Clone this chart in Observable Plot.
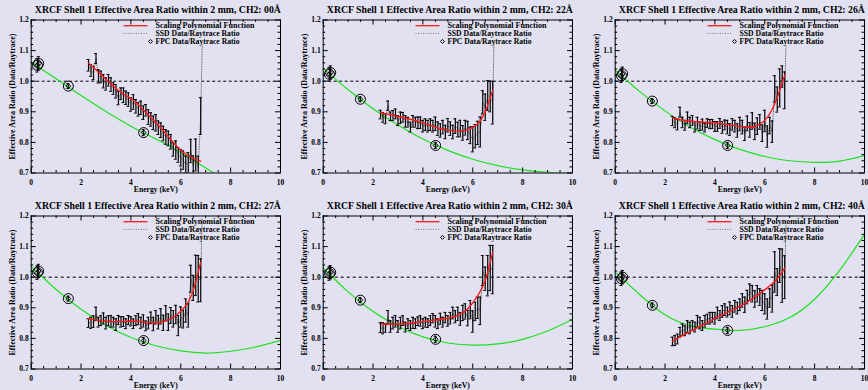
<!DOCTYPE html>
<html><head><meta charset="utf-8">
<script src="https://cdn.jsdelivr.net/npm/d3@7"></script>
<script src="https://cdn.jsdelivr.net/npm/@observablehq/plot@0.6"></script>
<style>
html,body{margin:0;padding:0;background:#e1e1f2;width:868px;height:390px;overflow:hidden;}
#wrap{position:relative;width:868px;height:390px;overflow:hidden;}
.panel{position:absolute;width:292px;height:195px;}
.panel svg{display:block;overflow:visible;}
</style></head><body><div id="wrap"></div>
<script>
// ---------- data ----------
const panelLabels = ["00Å", "22Å", "26Å", "27Å", "30Å", "40Å"];
const energy = [2.3,2.4,2.5,2.6,2.7,2.8,2.9,3.0,3.1,3.2,3.3,3.4,3.5,3.6,3.7,3.8,3.9,4.0,4.1,4.2,4.3,4.4,4.5,4.6,4.7,4.8,4.9,5.0,5.1,5.2,5.3,5.4,5.5,5.6,5.7,5.8,5.9,6.0,6.1,6.2,6.3,6.4,6.5,6.6,6.7,6.8];

const ssd00 = [1.052,1.035,1.027,1.074,1.016,1.014,1.000,0.991,1.003,0.989,0.976,0.967,0.945,0.959,0.954,0.946,0.940,0.924,0.932,0.918,0.908,0.913,0.897,0.905,0.883,0.875,0.864,0.864,0.848,0.840,0.829,0.818,0.813,0.802,0.777,0.775,0.759,0.750,0.742,0.728,0.734,0.772,0.723,0.759,0.717,0.886];
const err00 = [0.019,0.019,0.022,0.016,0.022,0.019,0.022,0.020,0.019,0.022,0.019,0.022,0.022,0.019,0.024,0.022,0.022,0.022,0.024,0.022,0.022,0.022,0.022,0.019,0.024,0.022,0.022,0.027,0.022,0.024,0.024,0.024,0.024,0.024,0.022,0.030,0.024,0.027,0.030,0.027,0.033,0.038,0.033,0.052,0.038,0.060];
const ssd22 = [0.891,0.882,0.877,0.920,0.885,0.888,0.893,0.871,0.880,0.882,0.869,0.866,0.850,0.869,0.866,0.864,0.864,0.853,0.858,0.853,0.858,0.853,0.861,0.845,0.839,0.850,0.834,0.856,0.845,0.834,0.853,0.842,0.845,0.831,0.848,0.839,0.823,0.810,0.820,0.831,0.834,0.931,0.915,0.953,0.950,0.930];
const err22 = [0.014,0.016,0.016,0.015,0.014,0.016,0.016,0.016,0.019,0.016,0.019,0.016,0.016,0.019,0.016,0.019,0.019,0.019,0.019,0.019,0.019,0.019,0.022,0.022,0.022,0.022,0.022,0.022,0.022,0.022,0.024,0.024,0.027,0.024,0.024,0.030,0.027,0.041,0.038,0.038,0.049,0.038,0.043,0.049,0.050,0.070];
const ssd26 = [0.870,0.864,0.858,0.899,0.865,0.856,0.880,0.865,0.872,0.851,0.863,0.853,0.858,0.848,0.863,0.860,0.860,0.852,0.852,0.862,0.849,0.857,0.850,0.842,0.859,0.853,0.839,0.860,0.850,0.828,0.862,0.841,0.870,0.836,0.853,0.867,0.830,0.870,0.819,0.855,0.835,0.975,0.940,0.978,1.015,0.970];
const err26 = [0.015,0.016,0.017,0.016,0.017,0.016,0.019,0.017,0.016,0.017,0.019,0.014,0.018,0.014,0.014,0.015,0.015,0.016,0.016,0.016,0.019,0.016,0.022,0.019,0.019,0.019,0.022,0.022,0.022,0.022,0.024,0.024,0.027,0.027,0.027,0.024,0.027,0.035,0.035,0.027,0.035,0.043,0.041,0.062,0.035,0.060];
const ssd27 = [0.850,0.851,0.855,0.880,0.853,0.858,0.865,0.850,0.858,0.856,0.853,0.845,0.860,0.854,0.855,0.848,0.860,0.856,0.848,0.858,0.863,0.851,0.857,0.841,0.850,0.867,0.847,0.869,0.853,0.872,0.851,0.882,0.853,0.875,0.864,0.878,0.842,0.870,0.863,0.891,0.875,0.995,0.965,1.006,0.995,0.990];
const err27 = [0.014,0.018,0.019,0.022,0.016,0.016,0.018,0.019,0.016,0.019,0.016,0.019,0.015,0.017,0.016,0.016,0.015,0.015,0.016,0.016,0.018,0.018,0.020,0.016,0.019,0.019,0.022,0.022,0.022,0.025,0.025,0.025,0.027,0.026,0.027,0.030,0.033,0.033,0.029,0.038,0.038,0.044,0.041,0.066,0.076,0.070];
const ssd30 = [0.835,0.833,0.834,0.869,0.839,0.850,0.856,0.839,0.850,0.858,0.837,0.848,0.842,0.851,0.848,0.856,0.857,0.848,0.853,0.850,0.858,0.866,0.856,0.848,0.864,0.853,0.868,0.857,0.866,0.883,0.871,0.880,0.864,0.883,0.888,0.866,0.894,0.855,0.888,0.900,0.890,1.022,0.995,1.005,1.030,1.025];
const err30 = [0.016,0.018,0.014,0.022,0.019,0.019,0.019,0.019,0.019,0.016,0.016,0.016,0.016,0.018,0.016,0.014,0.017,0.016,0.016,0.014,0.016,0.015,0.019,0.016,0.018,0.016,0.017,0.017,0.019,0.019,0.020,0.022,0.021,0.025,0.025,0.025,0.030,0.035,0.030,0.035,0.045,0.049,0.038,0.066,0.074,0.079];
const ssd40 = [0.790,0.793,0.798,0.820,0.828,0.825,0.839,0.834,0.842,0.837,0.856,0.850,0.842,0.856,0.863,0.866,0.869,0.866,0.883,0.875,0.888,0.894,0.886,0.898,0.888,0.905,0.899,0.910,0.924,0.910,0.935,0.951,0.946,0.929,0.946,0.935,0.924,0.913,0.896,0.932,0.930,1.017,0.984,1.038,1.005,1.000];
const err40 = [0.014,0.016,0.016,0.016,0.019,0.016,0.019,0.019,0.016,0.016,0.019,0.019,0.016,0.019,0.016,0.019,0.016,0.019,0.019,0.016,0.019,0.019,0.016,0.021,0.019,0.019,0.019,0.019,0.022,0.025,0.022,0.027,0.027,0.027,0.027,0.027,0.033,0.033,0.033,0.030,0.044,0.066,0.044,0.055,0.087,0.070];

// end of the SSD trace (dotted line rising past the last bar)
const tail00 = [6.86, 1.12];
const tail22 = [6.85, 1.13];
const tail26 = [6.85, 1.12];
const tail27 = [6.85, 1.19];
const tail30 = null;
const tail40 = [6.85, 1.17];

// scaling polynomial (red)
const red00E = [2.3,2.8,3.2,3.6,4.1,4.5,4.9,5.3,5.7,6.1,6.5,6.8];
const red00V = [1.059,1.022,0.991,0.964,0.937,0.906,0.873,0.838,0.800,0.768,0.748,0.739];
const red22E = [2.3,3.1,4.0,4.7,5.4,5.8,6.2,6.5,6.8];
const red22V = [0.897,0.883,0.864,0.845,0.837,0.841,0.861,0.900,0.970];
const red26E = [2.3,2.9,3.9,4.5,5.2,5.6,6.0,6.4,6.8];
const red26V = [0.880,0.870,0.864,0.858,0.850,0.852,0.872,0.926,1.020];
const red27E = [2.3,3.2,4.1,4.9,5.4,5.8,6.2,6.5,6.8];
const red27V = [0.864,0.855,0.856,0.851,0.857,0.875,0.907,0.957,1.049];
const red30E = [2.35,3.1,4.0,4.85,5.4,5.8,6.2,6.5,6.8];
const red30V = [0.847,0.847,0.855,0.864,0.875,0.897,0.940,0.989,1.082];
const red40E = [2.3,3.0,3.6,4.3,5.0,5.6,6.1,6.5,6.8];
const red40V = [0.792,0.822,0.848,0.878,0.905,0.935,0.965,0.995,1.030];

// FPC fit curve (green), read at whole keV
const fitEnergy = [0,1,2,3,4,5,6,7,8,9,10];
const fit00 = [1.062,1.008,0.953,0.901,0.853,0.811,0.767,0.716,0.670,0.630,0.590];
const fit22 = [1.042,0.972,0.910,0.857,0.811,0.774,0.745,0.724,0.710,0.702,0.700];
const fit26 = [1.036,0.965,0.903,0.850,0.809,0.777,0.754,0.740,0.735,0.739,0.757];
const fit27 = [1.035,0.960,0.895,0.843,0.803,0.776,0.759,0.752,0.758,0.772,0.793];
const fit30 = [1.030,0.952,0.888,0.840,0.805,0.785,0.778,0.782,0.797,0.824,0.862];
const fit40 = [1.017,0.942,0.877,0.842,0.830,0.826,0.838,0.868,0.928,1.022,1.140];

// FPC data points
const fpcEnergy = [0.25, 0.30, 1.49, 4.51];
const fpcErr = [0.022, 0.022, 0.008, 0.010];
const fpc00 = [1.052, 1.058, 0.984, 0.832];
const fpc22 = [1.023, 1.028, 0.941, 0.790];
const fpc26 = [1.018, 1.024, 0.935, 0.790];
const fpc27 = [1.015, 1.020, 0.930, 0.793];
const fpc30 = [1.012, 1.016, 0.925, 0.797];
const fpc40 = [0.995, 1.000, 0.908, 0.826];

// axis ticks
const xTickLabels = [0, 2, 4, 6, 8, 10];
const yTickLabels = [0.7, 0.8, 0.9, 1.0, 1.1, 1.2];
const legendLabels = ["Scaling Polynomial Function", "SSD Data/Raytrace Ratio", "FPC Data/Raytrace Ratio"];

// ---------- drawing ----------
const FONT = "Liberation Serif, Times New Roman, serif";
const GREEN = "#1ee01e";
const RED = "#ff1a1a";

const panels = [
  {label: panelLabels[0], ssd: ssd00, err: err00, tail: tail00, redE: red00E, redV: red00V, fit: fit00, fpc: fpc00},
  {label: panelLabels[1], ssd: ssd22, err: err22, tail: tail22, redE: red22E, redV: red22V, fit: fit22, fpc: fpc22},
  {label: panelLabels[2], ssd: ssd26, err: err26, tail: tail26, redE: red26E, redV: red26V, fit: fit26, fpc: fpc26},
  {label: panelLabels[3], ssd: ssd27, err: err27, tail: tail27, redE: red27E, redV: red27V, fit: fit27, fpc: fpc27},
  {label: panelLabels[4], ssd: ssd30, err: err30, tail: tail30, redE: red30E, redV: red30V, fit: fit30, fpc: fpc30},
  {label: panelLabels[5], ssd: ssd40, err: err40, tail: tail40, redE: red40E, redV: red40V, fit: fit40, fpc: fpc40}
];

const xMinor = d3.range(0.5, 10, 0.5).filter(v => v % 2 !== 0);
const yMinor = d3.range(0.72, 1.2, 0.02).filter(v => Math.abs(v * 10 - Math.round(v * 10)) > 0.01);

const W = 292, H = 195, ML = 30.7, MR = 12, MT = 19.5, MB = 22.5;
const FW = W - ML - MR, FH = H - MT - MB;

function makeChart(p, row) {
  const ssd = energy.map((e, i) => ({e, v: p.ssd[i], lo: p.ssd[i] - p.err[i], hi: p.ssd[i] + p.err[i]}));
  const trace = ssd.map(d => ({e: d.e, v: d.v}));
  if (p.tail) trace.push({e: p.tail[0], v: p.tail[1]});
  const fit = fitEnergy.map((e, i) => ({e, v: p.fit[i]}));
  const red = p.redE.map((e, i) => ({e, v: p.redV[i]}));
  const fpc = fpcEnergy.map((e, i) => ({e, v: p.fpc[i], lo: p.fpc[i] - fpcErr[i], hi: p.fpc[i] + fpcErr[i]}));
  const cap = 0.06;
  const txt = {fontFamily: FONT, fontWeight: "bold", fill: "black"};
  const title = "XRCF Shell 1 Effective Area Ratio within 2 mm, CH2: " + p.label;

  const chart = Plot.plot({
    width: W, height: H, marginLeft: ML, marginRight: MR, marginTop: MT, marginBottom: MB,
    x: {domain: [0, 10], axis: null},
    y: {domain: [0.7, 1.2], axis: null},
    style: {background: "transparent", overflow: "visible"},
    marks: [
      Plot.ruleY([1], row === 0
        ? {stroke: "black", strokeWidth: 1, strokeDasharray: "3,2.5"}
        : {stroke: "#444", strokeWidth: 1.5, strokeDasharray: "3,3"}),
      Plot.line(fit, {x: "e", y: "v", stroke: GREEN, strokeWidth: 1.2, curve: "natural", clip: true}),
      Plot.line(trace, {x: "e", y: "v", stroke: "#777", strokeWidth: 1, strokeDasharray: "1,1.5", clip: true}),
      Plot.ruleX(ssd, {x: "e", y1: "lo", y2: "hi", stroke: "black", strokeWidth: 1.2, clip: true}),
      Plot.ruleY(ssd, {y: "hi", x1: d => d.e - cap, x2: d => d.e + cap, stroke: "black", clip: true}),
      Plot.ruleY(ssd, {y: "lo", x1: d => d.e - cap, x2: d => d.e + cap, stroke: "black", clip: true}),
      Plot.line(red, {x: "e", y: "v", stroke: RED, strokeWidth: 1.4, curve: "natural"}),
      Plot.ruleX(fpc, {x: "e", y1: "lo", y2: "hi", stroke: "black"}),
      Plot.ruleY(fpc, {y: "hi", x1: d => d.e - cap, x2: d => d.e + cap, stroke: "black"}),
      Plot.ruleY(fpc, {y: "lo", x1: d => d.e - cap, x2: d => d.e + cap, stroke: "black"}),
      Plot.dot(fpc, {x: "e", y: "v", r: 5, stroke: "black", fill: "none", strokeWidth: 1}),
      Plot.dot(fpc, {x: "e", y: "v", r: 2.2, symbol: "diamond2", stroke: "black", fill: "none", strokeWidth: 1}),
      // ticks (inside, all four sides)
      Plot.ruleX(xTickLabels, {x: d => d, insetTop: FH - 5, stroke: "black"}),
      Plot.ruleX(xTickLabels, {x: d => d, insetBottom: FH - 5, stroke: "black"}),
      Plot.ruleX(xMinor, {x: d => d, insetTop: FH - 2.5, stroke: "black"}),
      Plot.ruleX(xMinor, {x: d => d, insetBottom: FH - 2.5, stroke: "black"}),
      Plot.ruleY(yTickLabels, {y: d => d, insetRight: FW - 5, stroke: "black"}),
      Plot.ruleY(yTickLabels, {y: d => d, insetLeft: FW - 5, stroke: "black"}),
      Plot.ruleY(yMinor, {y: d => d, insetRight: FW - 2.5, stroke: "black"}),
      Plot.ruleY(yMinor, {y: d => d, insetLeft: FW - 2.5, stroke: "black"}),
      Plot.frame({stroke: "black", strokeWidth: 1}),
      // tick labels & titles
      Plot.text(xTickLabels, {x: d => d, text: d => String(d), frameAnchor: "bottom", lineAnchor: "middle", textAnchor: "middle", dy: 9.5, fontSize: 7.5, ...txt}),
      Plot.text(yTickLabels, {y: d => d, text: d => d.toFixed(1), frameAnchor: "left", lineAnchor: "middle", textAnchor: "end", dx: -2.5, fontSize: 7.5, ...txt}),
      Plot.text([title], {text: d => d, frameAnchor: "top", lineAnchor: "middle", textAnchor: "middle", dy: -9.5, dx: 2, fontSize: 9.3, ...txt}),
      Plot.text(["Energy (keV)"], {text: d => d, frameAnchor: "bottom", lineAnchor: "middle", textAnchor: "middle", dy: 16, fontSize: 8, ...txt}),
      Plot.text(["Effective Area Ratio (Data/Raytrace)"], {text: d => d, frameAnchor: "left", rotate: -90, lineAnchor: "middle", textAnchor: "middle", dx: -18.4, fontSize: 7.5, ...txt})
    ]
  });

  const fit2 = (el, len) => { el.setAttribute("textLength", len); el.setAttribute("lengthAdjust", "spacingAndGlyphs"); };
  d3.select(chart).selectAll("text").each(function () {
    const t = this.textContent;
    if (t.startsWith("XRCF")) fit2(this, 246);
    else if (t.startsWith("Effective")) fit2(this, 126);
    else if (t === "Energy (keV)") fit2(this, 44);
  });

  // legend (inside the frame, upper right)
  const g = d3.select(chart).append("g")
    .attr("font-family", FONT).attr("font-weight", "bold").attr("font-size", 7.5)
    .attr("fill", "black").attr("text-anchor", "start");
  const rowsY = [25.7, 33.4, 41.4];
  g.append("line").attr("x1", 123.5).attr("x2", 147.5).attr("y1", rowsY[0]).attr("y2", rowsY[0])
    .attr("stroke", RED).attr("stroke-width", 1.3);
  g.append("line").attr("x1", 123.5).attr("x2", 147.5).attr("y1", rowsY[1]).attr("y2", rowsY[1])
    .attr("stroke", "#777").attr("stroke-dasharray", "1,1.5");
  g.append("path").attr("d", d3.symbol(d3.symbolDiamond2, 10)()).attr("transform", `translate(150.5,${rowsY[2]})`)
    .attr("fill", "none").attr("stroke", "black");
  const lens = [99, 84, 84];
  legendLabels.forEach((s, i) => {
    const t = g.append("text").attr("x", 155.5).attr("y", rowsY[i]).attr("dy", "0.32em")
      .attr("text-anchor", "start").text(s);
    fit2(t.node(), lens[i]);
  });
  return chart;
}

const wrap = document.getElementById("wrap");
const lefts = [0, 291.6, 584];
const tops = [0, 196];
panels.forEach((p, k) => {
  const row = Math.floor(k / 3), col = k % 3;
  const div = document.createElement("div");
  div.className = "panel";
  div.style.left = lefts[col] + "px";
  div.style.top = tops[row] + "px";
  div.appendChild(makeChart(p, row));
  wrap.appendChild(div);
});
</script>
</body></html>
